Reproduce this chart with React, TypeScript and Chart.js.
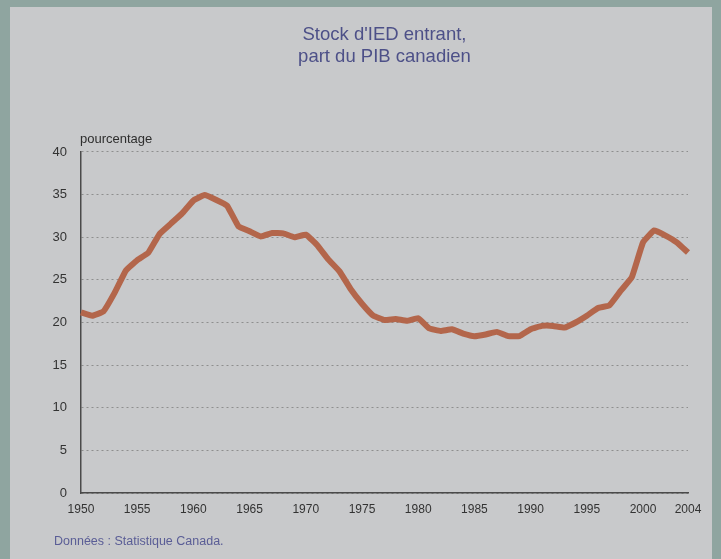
import React, { useEffect, useRef } from "react";
import { Chart, registerables } from "chart.js";

Chart.register(...registerables);

const years: string[] = [
  "1950", "1951", "1952", "1953", "1954", "1955", "1956", "1957", "1958", "1959",
  "1960", "1961", "1962", "1963", "1964", "1965", "1966", "1967", "1968", "1969",
  "1970", "1971", "1972", "1973", "1974", "1975", "1976", "1977", "1978", "1979",
  "1980", "1981", "1982", "1983", "1984", "1985", "1986", "1987", "1988", "1989",
  "1990", "1991", "1992", "1993", "1994", "1995", "1996", "1997", "1998", "1999",
  "2000", "2001", "2002", "2003", "2004",
];

const stockShare: number[] = [
  21.2, 20.8, 21.3, 23.5, 26.1, 27.3, 28.2, 30.4, 31.6, 32.8,
  34.3, 34.95, 34.4, 33.7, 31.3, 30.7, 30.1, 30.5, 30.45, 30.0,
  30.3, 29.1, 27.4, 26.0, 23.9, 22.2, 20.8, 20.3, 20.4, 20.2,
  20.5, 19.3, 19.0, 19.2, 18.7, 18.4, 18.6, 18.9, 18.4, 18.4,
  19.2, 19.6, 19.6, 19.4, 20.0, 20.8, 21.7, 22.0, 23.7, 25.3,
  29.4, 30.8, 30.2, 29.4, 28.2,
];

const xTickLabels: string[] = [
  "1950", "1955", "1960", "1965", "1970", "1975", "1980", "1985", "1990", "1995", "2000", "2004",
];

const titleLines: string[] = ["Stock d'IED entrant,", "part du PIB canadien"];
const yAxisLabel = "pourcentage";
const sourceNote = "Données : Statistique Canada.";

const FONT = "'Liberation Sans', Arial, Helvetica, sans-serif";

const backgroundPlugin = {
  id: "panelBackground",
  beforeDraw(chart: any) {
    const { ctx, width, height } = chart;
    ctx.save();
    ctx.fillStyle = "#8fa5a0";
    ctx.fillRect(0, 0, width, height);
    ctx.fillStyle = "#c8c9cb";
    ctx.fillRect(10, 7, 702, height - 7);
    ctx.restore();
  },
};

const textPlugin = {
  id: "extraTexts",
  afterDraw(chart: any) {
    const { ctx, chartArea } = chart;
    ctx.save();
    ctx.textBaseline = "middle";
    ctx.textAlign = "left";
    ctx.fillStyle = "#2e2e2e";
    ctx.font = `13px ${FONT}`;
    ctx.fillText(yAxisLabel, chartArea.left - 1, chartArea.top - 13);
    ctx.fillStyle = "#5a5d96";
    ctx.font = `12.5px ${FONT}`;
    ctx.fillText(sourceNote, 54, 542);
    ctx.restore();
  },
};

export default function App() {
  const canvasRef = useRef<HTMLCanvasElement | null>(null);

  useEffect(() => {
    if (!canvasRef.current) return;
    const chart = new Chart(canvasRef.current, {
      type: "line",
      data: {
        labels: years,
        datasets: [
          {
            data: stockShare,
            borderColor: "#b3664b",
            borderWidth: 6,
            pointRadius: 0,
            tension: 0.1,
            borderJoinStyle: "round",
            fill: false,
          },
        ],
      },
      options: {
        animation: false,
        responsive: false,
        devicePixelRatio: 1,
        layout: {
          padding: { left: 38.5, right: 33, top: 0, bottom: 33.6 },
        },
        plugins: {
          legend: { display: false },
          tooltip: { enabled: false },
          title: {
            display: true,
            fullSize: false,
            text: titleLines,
            color: "#4d5088",
            font: { family: FONT, size: 18.5, weight: "normal", lineHeight: 1.17 },
            padding: { top: 24.3, bottom: 84.4 },
          },
        },
        scales: {
          x: {
            type: "category",
            offset: false,
            grid: { display: false, drawTicks: false },
            border: { display: true, color: "#4a4a4a", width: 1.5 },
            ticks: {
              autoSkip: false,
              maxRotation: 0,
              minRotation: 0,
              padding: 9,
              color: "#333333",
              font: { family: FONT, size: 12 },
              callback: function (this: any, _v: any, index: number) {
                const lbl = years[index];
                return xTickLabels.includes(lbl) ? lbl : "";
              },
            },
          },
          y: {
            min: 0,
            max: 40,
            grid: {
              color: "#8e8e8e",
              lineWidth: 1,
              drawTicks: false,
            },
            border: { display: true, color: "#4a4a4a", width: 1.5, dash: [2, 3] },
            ticks: {
              stepSize: 5,
              padding: 14,
              color: "#333333",
              font: { family: FONT, size: 13 },
            },
          },
        },
      },
      plugins: [backgroundPlugin, textPlugin],
    });
    return () => chart.destroy();
  }, []);

  return (
    <div style={{ position: "absolute", left: 0, top: 0, width: 721, height: 559 }}>
      <canvas ref={canvasRef} width={721} height={559} style={{ width: 721, height: 559, display: "block" }} />
    </div>
  );
}
